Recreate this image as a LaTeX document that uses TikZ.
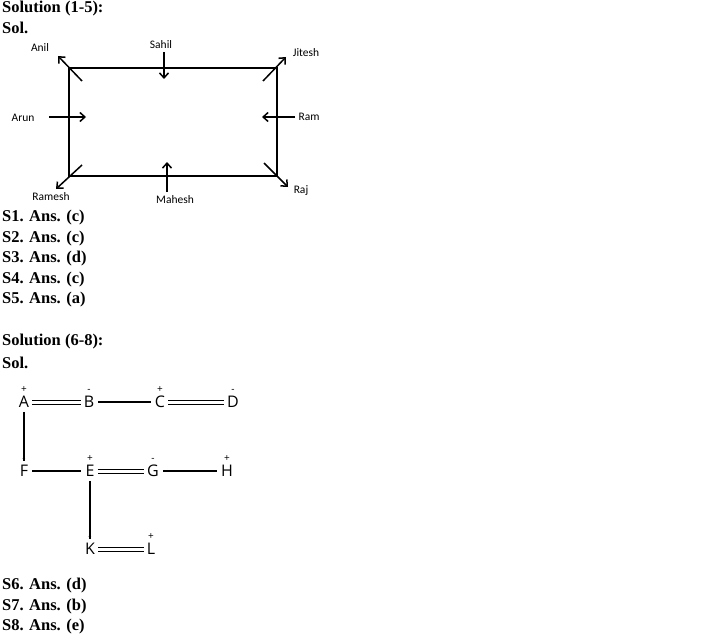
\documentclass[tikz,border=0pt]{standalone}
\usepackage{fontspec}
\setmainfont{Liberation Serif}
\newfontfamily\labelfont{Carlito}
\newfontfamily\letterfont{Open Sans}
\usetikzlibrary{arrows.meta}
\begin{document}
\begin{tikzpicture}[x=1pt, y=-1pt,
    head/.style={font=\bfseries\fontsize{16.5}{16.5}\selectfont, anchor=west, inner sep=0pt},
    pers/.style={font=\labelfont\fontsize{11.5}{11.5}\selectfont, inner sep=1pt},
    dir/.style={draw=black, line width=1.5pt, -{Straight Barb[length=5pt, width=9pt]}},
    atom/.style={font=\letterfont\fontsize{16}{16}\selectfont, inner sep=1pt},
    sgn/.style={font=\letterfont\fontsize{10}{10}\selectfont, inner sep=0pt, label distance=2pt},
    bond/.style={line width=1.3pt, shorten <=3pt, shorten >=3pt},
    dbond/.style={double, line width=1pt, double distance=3pt, shorten <=2pt, shorten >=2pt}]
\useasboundingbox (0,0) rectangle (726,642);
% headings and answers
\foreach \t/\y in {{Solution (1-5):}/9, {Sol.}/28, {S1. Ans. (c)}/218, {S2. Ans. (c)}/239,
    {S3. Ans. (d)}/259, {S4. Ans. (c)}/280, {S5. Ans. (a)}/300, {Solution (6-8):}/342,
    {Sol.}/363, {S6. Ans. (d)}/586, {S7. Ans. (b)}/607, {S8. Ans. (e)}/627}
    \node[head] at (2,\y) {\t};
% seating rectangle
\draw[line width=1.5pt] (69,68) rectangle (277,176);
\coordinate (anil0) at (82,81);    \coordinate (anil1) at (58,56);
\coordinate (sahil0) at (164,52);  \coordinate (sahil1) at (164,79);
\coordinate (jit0) at (263,81);    \coordinate (jit1) at (286,57);
\coordinate (arun0) at (49,117);   \coordinate (arun1) at (86,117);
\coordinate (ram0) at (295,117);   \coordinate (ram1) at (262,117);
\coordinate (rame0) at (82,165);   \coordinate (rame1) at (56,189);
\coordinate (mah0) at (167,192);   \coordinate (mah1) at (167,162);
\coordinate (raj0) at (264,163);   \coordinate (raj1) at (288,187);
\foreach \a in {anil,sahil,jit,arun,ram,rame,mah,raj}
    \draw[dir] (\a0) -- (\a1);
\node[pers] (anil) at (40,48) {Anil};
\node[pers] (sahil) at (161,45) {Sahil};
\node[pers] (jitesh) at (306,53) {Jitesh};
\node[pers] (arun) at (23,118) {Arun};
\node[pers] (ram) at (309,117) {Ram};
\node[pers] (ramesh) at (51,197) {Ramesh};
\node[pers] (mahesh) at (175,200) {Mahesh};
\node[pers] (raj) at (301,191) {Raj};
% charges
\node[atom, label={[sgn]above:+}] (A) at (24,402) {A};
\node[atom, label={[sgn]above:-}] (B) at (89,402) {B};
\node[atom, label={[sgn]above:+}] (C) at (160,402) {C};
\node[atom, label={[sgn]above:-}] (D) at (233,402) {D};
\node[atom, label={[sgn]above:-}] (F) at (24,471) {F};
\node[atom, label={[sgn]above:+}] (E) at (90,471) {E};
\node[atom, label={[sgn]above:-}] (G) at (153,471) {G};
\node[atom, label={[sgn]above:+}] (H) at (227,471) {H};
\node[atom, label={[sgn]above:-}] (K) at (90,549) {K};
\node[atom, label={[sgn]above:+}] (L) at (151,549) {L};
\draw[dbond] (A) -- (B);
\draw[bond] (B) -- (C);
\draw[dbond] (C) -- (D);
\draw[bond] (A) -- (F);
\draw[bond] (F) -- (E);
\draw[dbond] (E) -- (G);
\draw[bond] (G) -- (H);
\draw[bond] (E) -- (K);
\draw[dbond] (K) -- (L);
\end{tikzpicture}
\end{document}
